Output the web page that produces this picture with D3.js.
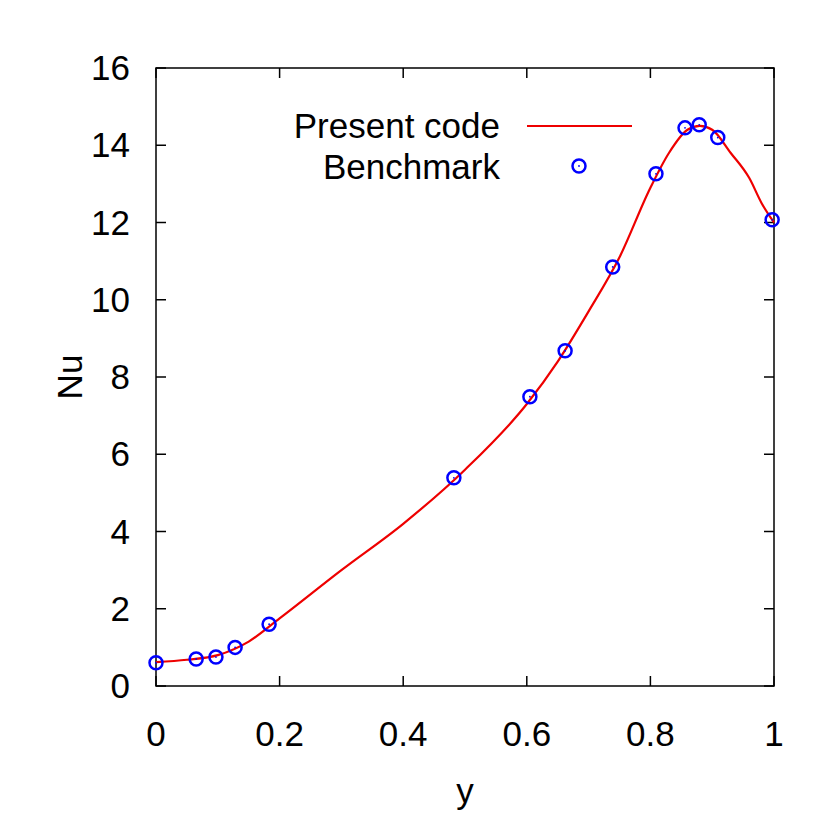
<!DOCTYPE html>
<html><head><meta charset="utf-8">
<script src="https://cdn.jsdelivr.net/npm/d3@7"></script>
<style>body{margin:0;background:#fff}text{font-family:"Liberation Sans",Arial,sans-serif;fill:#000}</style>
</head><body><div id="chart"></div>
<script>
// line: present code
const lineX = [0,0.05,0.1,0.15,0.2,0.3,0.4,0.5,0.6,0.65,0.7,0.75,0.8,0.83,0.86,0.88,0.9,0.93,0.96,0.98,1.0];
const lineY = [0.62,0.68,0.8,1.15,1.75,3.0,4.2,5.6,7.3,8.4,9.7,11.1,12.9,13.8,14.4,14.5,14.4,13.8,13.15,12.5,12.0];
// benchmark points
const benchX = [0,0.065,0.097,0.128,0.183,0.482,0.605,0.662,0.739,0.809,0.856,0.879,0.909,0.997];
const benchY = [0.6,0.7,0.75,1.0,1.6,5.39,7.49,8.68,10.85,13.26,14.45,14.53,14.2,12.07];
const xTicks = [0,0.2,0.4,0.6,0.8,1];
const yTicks = [0,2,4,6,8,10,12,14,16];

const W = 830, H = 834, FS = 35;
const m = {left:156, right:W-774, top:68, bottom:H-686};
const svg = d3.select("#chart").append("svg").attr("width",W).attr("height",H);
const x = d3.scaleLinear().domain([0,1]).range([m.left, W-m.right]);
const y = d3.scaleLinear().domain([0,16]).range([H-m.bottom, m.top]);

svg.append("rect").attr("x",m.left).attr("y",m.top)
  .attr("width",x(1)-x(0)).attr("height",y(0)-y(16))
  .attr("fill","none").attr("stroke","#000").attr("stroke-width",1.5);

const tl = 10;
xTicks.forEach(t => {
  svg.append("line").attr("x1",x(t)).attr("x2",x(t)).attr("y1",y(0)).attr("y2",y(0)-tl).attr("stroke","#000").attr("stroke-width",1.5);
  svg.append("line").attr("x1",x(t)).attr("x2",x(t)).attr("y1",y(16)).attr("y2",y(16)+tl).attr("stroke","#000").attr("stroke-width",1.5);
  svg.append("text").attr("x",x(t)).attr("y",y(0)+60).attr("text-anchor","middle").attr("font-size",FS).text(t);
});
yTicks.forEach(t => {
  svg.append("line").attr("x1",x(0)).attr("x2",x(0)+tl).attr("y1",y(t)).attr("y2",y(t)).attr("stroke","#000").attr("stroke-width",1.5);
  svg.append("line").attr("x1",x(1)).attr("x2",x(1)-tl).attr("y1",y(t)).attr("y2",y(t)).attr("stroke","#000").attr("stroke-width",1.5);
  svg.append("text").attr("x",x(0)-26).attr("y",y(t)+12).attr("text-anchor","end").attr("font-size",FS).text(t);
});
svg.append("text").attr("x",(x(0)+x(1))/2).attr("y",803).attr("text-anchor","middle").attr("font-size",FS).text("y");
svg.append("text").attr("transform",`translate(82,${(y(0)+y(16))/2}) rotate(-90)`).attr("text-anchor","middle").attr("font-size",FS).text("Nu");

const line = d3.line().x(d=>x(d)).y((d,i)=>y(lineY[i])).curve(d3.curveMonotoneX);
svg.append("path").attr("d",line(lineX)).attr("fill","none").attr("stroke","#e00").attr("stroke-width",2.2);

benchX.forEach((v,i) => {
  svg.append("circle").attr("cx",x(v)).attr("cy",y(benchY[i])).attr("r",6.5).attr("fill","none").attr("stroke","#00f").attr("stroke-width",2.5);
  svg.append("circle").attr("cx",x(v)).attr("cy",y(benchY[i])).attr("r",0.9).attr("fill","#00f");
});

// legend
svg.append("text").attr("x",500).attr("y",138).attr("text-anchor","end").attr("font-size",FS).text("Present code");
svg.append("line").attr("x1",527).attr("x2",632).attr("y1",126).attr("y2",126).attr("stroke","#e00").attr("stroke-width",2.2);
svg.append("text").attr("x",500).attr("y",179).attr("text-anchor","end").attr("font-size",FS).text("Benchmark");
svg.append("circle").attr("cx",579).attr("cy",166).attr("r",6.5).attr("fill","none").attr("stroke","#00f").attr("stroke-width",2.5);
svg.append("circle").attr("cx",579).attr("cy",166).attr("r",0.9).attr("fill","#00f");
</script></body></html>
